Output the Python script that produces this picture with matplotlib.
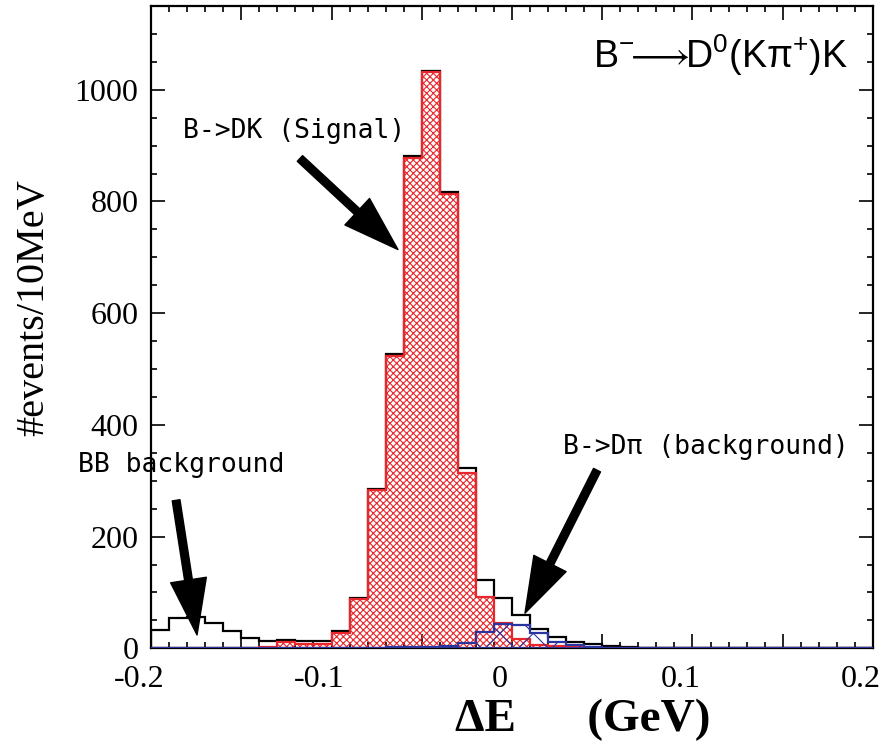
import numpy as np
import matplotlib
matplotlib.use('Agg')
import matplotlib.pyplot as plt
from matplotlib.ticker import MultipleLocator
from matplotlib.transforms import ScaledTranslation

# Delta E histograms, 10 MeV bins from -0.2 to 0.2 GeV
edges = np.linspace(-0.2, 0.2, 41)

# total (black outline)
total = [33, 54, 56, 46, 31, 19, 13, 15, 13, 13,
         31, 90, 286, 527, 881, 1034, 817, 323, 122, 90,
         60, 34, 20, 12, 8, 4, 2, 1, 1, 1,
         1, 1, 1, 0, 0, 0, 0, 0, 0, 0]
# B->DK signal (red hatch)
signal = [0, 1, 0, 0, 1, 0, 2, 12, 8, 8,
          28, 88, 283, 523, 878, 1031, 813, 314, 92, 46,
          16, 6, 4, 2, 1, 0, 0, 0, 0, 0,
          1, 1, 0, 0, 0, 0, 0, 0, 0, 0]
# B->Dpi background (blue hatch)
dpi_bkg = [0, 0, 0, 0, 0, 0, 0, 0, 0, 0,
           0, 1, 1, 2, 2, 3, 5, 9, 29, 43,
           42, 28, 12, 6, 3, 1, 0, 0, 0, 0,
           0, 0, 0, 0, 0, 0, 0, 0, 0, 0]

xtick_vals = [-0.2, -0.15, -0.1, -0.05, 0, 0.05, 0.1, 0.15, 0.2]
xtick_labels = ['-0.2', '', '-0.1', '', '0', '', '0.1', '', '0.2']
ytick_vals = [0, 200, 400, 600, 800, 1000]

red = '#e8262b'
blue = '#2a35a0'

plt.rcParams['hatch.linewidth'] = 0.8
plt.rcParams['mathtext.fontset'] = 'custom'
plt.rcParams['mathtext.rm'] = 'Liberation Sans'
plt.rcParams['mathtext.it'] = 'Liberation Sans'
plt.rcParams['mathtext.fallback'] = 'stixsans'

fig = plt.figure(figsize=(8.93, 7.49), dpi=100)
ax = fig.add_axes([0.1691, 0.1344, 0.8085, 0.8576])

# histograms
ax.stairs(total, edges, color='black', lw=1.6, zorder=2)
ax.stairs(signal, edges, fill=True, facecolor='none', edgecolor=red,
          hatch='xxxxx', lw=1.6, zorder=3)
ax.stairs(dpi_bkg, edges, fill=True, facecolor='none', edgecolor=blue,
          hatch='x', lw=1.6, zorder=4)
ax.axhline(0, color=blue, lw=2, zorder=5)

ax.set_xlim(-0.2, 0.2)
ax.set_ylim(0, 1150)

# ticks on all sides, pointing in
ax.set_xticks(xtick_vals)
ax.set_xticklabels([])
ax.xaxis.set_minor_locator(MultipleLocator(0.01))
ax.set_yticks(ytick_vals)
ax.yaxis.set_minor_locator(MultipleLocator(50))
ax.tick_params(which='both', direction='in', top=True, right=True, width=1.2)
ax.tick_params(which='major', length=10)
ax.tick_params(which='minor', length=4.5)
ax.tick_params(axis='y', pad=9)
for lab in ax.get_yticklabels():
    lab.set_fontfamily('Liberation Serif')
    lab.set_fontsize(23)
for sp in ax.spines.values():
    sp.set_linewidth(1.6)

# x tick labels sit a little left of their ticks in the original
xlab_tr = ax.get_xaxis_transform() + ScaledTranslation(-0.12, -0.17, fig.dpi_scale_trans)
for v, s in zip(xtick_vals, xtick_labels):
    ax.text(v, 0, s, transform=xlab_tr, ha='center', va='top',
            family='Liberation Serif', fontsize=23, clip_on=False)

# axis titles
ax.set_ylabel('#events/10MeV', fontfamily='Liberation Serif', fontsize=29)
ax.yaxis.set_label_coords(-0.137, 0.53)
ax.set_xlabel('ΔE      (GeV)', fontfamily='Liberation Serif', fontsize=34,
              fontweight='bold')
ax.xaxis.set_label_coords(0.598, -0.078)

# decay label
ax.text(0.965, 0.924, r'$\mathrm{B^{-}\!\!\longrightarrow\!\! D^{0}(K\pi^{+})K}$',
        transform=ax.transAxes, ha='right', va='center', fontsize=27)

# annotations with arrows
mono = 'DejaVu Sans Mono'
ax.text(-0.1823, 927, 'B->DK (Signal)', family=mono, fontsize=19, va='center')
ax.text(0.0283, 360, 'B->Dπ (background)', family=mono, fontsize=19, va='center')
ax.text(-0.2404, 328, 'BB background', family=mono, fontsize=19, va='center',
        clip_on=False)

arrow = dict(arrowstyle='simple,head_length=2.0,head_width=1.3,tail_width=0.28',
             mutation_scale=20, color='black', shrinkA=0, shrinkB=0)
ax.annotate('', xy=(-0.0632, 714), xytext=(-0.1175, 877), arrowprops=arrow)
ax.annotate('', xy=(-0.1745, 24), xytext=(-0.1861, 265), arrowprops=arrow)
ax.annotate('', xy=(0.0072, 63), xytext=(0.0471, 319), arrowprops=arrow)

fig.savefig('out.png', dpi=100)
